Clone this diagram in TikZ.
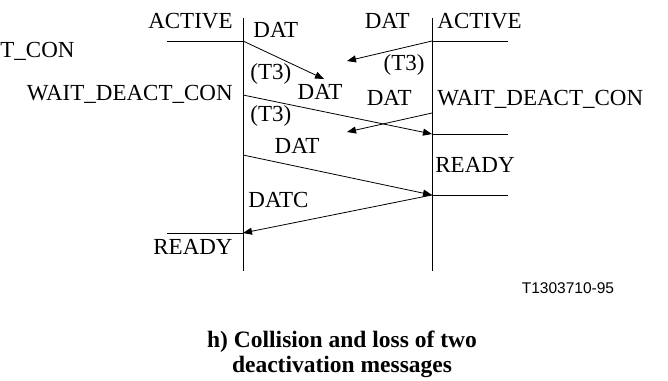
\documentclass[tikz,border=0pt]{standalone}
\usepackage{fontspec}
\setmainfont{Liberation Serif}
\setsansfont{Liberation Sans}
\usetikzlibrary{arrows.meta}

\begin{document}
\begin{tikzpicture}[x=1pt,y=-1pt,line width=0.8pt,
  every node/.style={inner sep=0pt,font=\fontsize{23}{27}\selectfont},
  msg/.style={-{Triangle[length=9pt,width=7pt]}},
  lab/.style={anchor=base west},
  labr/.style={anchor=base east}]
  \useasboundingbox (0,0) rectangle (668,380);
  \coordinate (Ltop) at (243,18);  \coordinate (Lbot) at (243,271);
  \coordinate (Rtop) at (432,18);  \coordinate (Rbot) at (432,271);
  \coordinate (L1) at (243,41);  \coordinate (L1s) at (167,41);
  \coordinate (L2) at (243,95);
  \coordinate (L3) at (243,155);
  \coordinate (L4) at (243,233); \coordinate (L4s) at (167,233);
  \coordinate (R1) at (432,41);  \coordinate (R1s) at (508,41);
  \coordinate (R2) at (432,113);
  \coordinate (R3) at (432,134); \coordinate (R3s) at (508,134);
  \coordinate (R4) at (432,195); \coordinate (R4s) at (508,195);
  \coordinate (lost1) at (324,79);
  \coordinate (lost2) at (347,61);
  \coordinate (lost3) at (347,132);
  \draw (Ltop) -- (Lbot);
  \draw (Rtop) -- (Rbot);
  \draw (L1s) -- (L1);
  \draw (L4s) -- (L4);
  \draw (R1) -- (R1s);
  \draw (R3) -- (R3s);
  \draw (R4) -- (R4s);
  \draw[msg] (L1) -- (lost1);
  \draw[msg] (R1) -- (lost2);
  \draw[msg] (L2) -- (R3);
  \draw[msg] (R2) -- (lost3);
  \draw[msg] (L3) -- (R4);
  \draw[msg] (R4) -- (L4);
  \node[labr] (actL) at (233,28) {ACTIVE};
  \node[lab] (tcon) at (0,57) {T\_CON};
  \node[labr] (wdcL) at (233,100) {WAIT\_DEACT\_CON};
  \node[labr] (rdyL) at (233,254) {READY};
  \node[lab] (datA) at (253,37) {DAT};
  \node[lab] (tthrA) at (250,79) {(T3)};
  \node[anchor=base] (datB) at (320,99) {DAT};
  \node[lab] (tthrB) at (250,121) {(T3)};
  \node[anchor=base] (datC) at (297,153) {DAT};
  \node[lab] (datcD) at (248,207) {DATC};
  \node[labr] (datR1) at (410,28) {DAT};
  \node[lab] (actR) at (437,28) {ACTIVE};
  \node[labr] (tthrR) at (425,70) {(T3)};
  \node[labr] (datR2) at (412,105) {DAT};
  \node[lab] (wdcR) at (437,105) {WAIT\_DEACT\_CON};
  \node[lab] (rdyR) at (435,172) {READY};
  \node[anchor=base,font=\sffamily\fontsize{15.5}{18}\selectfont] (figno) at (568,293) {T1303710-95};
  \node[anchor=base,font=\bfseries\fontsize{23.5}{27}\selectfont] (capA) at (342,347) {h) Collision and loss of two};
  \node[anchor=base,font=\bfseries\fontsize{23.5}{27}\selectfont] (capB) at (342,372) {deactivation messages};
\end{tikzpicture}
\end{document}
